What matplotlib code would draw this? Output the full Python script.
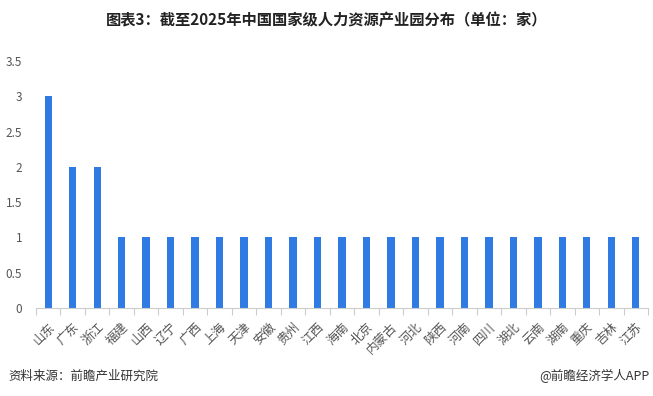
import matplotlib
matplotlib.use("Agg")
import matplotlib.pyplot as plt

plt.rcParams['font.family'] = ['Noto Sans CJK SC', 'DejaVu Sans']

categories = ["山东", "广东", "浙江", "福建", "山西", "辽宁", "广西", "上海", "天津", "安徽",
              "贵州", "江西", "海南", "北京", "内蒙古", "河北", "陕西", "河南", "四川", "湖北",
              "云南", "湖南", "重庆", "吉林", "江苏"]
values = [3, 2, 2, 1, 1, 1, 1, 1, 1, 1, 1, 1, 1, 1, 1, 1, 1, 1, 1, 1, 1, 1, 1, 1, 1]
yticks = [0, 0.5, 1, 1.5, 2, 2.5, 3, 3.5]
ytick_labels = ["0", "0.5", "1", "1.5", "2", "2.5", "3", "3.5"]

fig = plt.figure(figsize=(6.53, 3.96), dpi=100)
ax = fig.add_axes([36/653, 1-308/396, (648-36)/653, (308-61)/396])

x = list(range(len(categories)))
ax.bar(x, values, width=0.3, color="#2f7be3", zorder=2)
ax.set_xlim(-0.5, len(categories)-0.5)
ax.set_ylim(0, 3.5)
ax.set_yticks(yticks)
ax.set_yticklabels(ytick_labels, fontsize=8.5, color="#555555")
ax.tick_params(axis='y', length=0, pad=10)
ax.set_xticks(x)
ax.set_xticklabels(categories, rotation=45, ha='right', rotation_mode='anchor',
                   fontsize=9, color="#555555")
ax.tick_params(axis='x', length=0, pad=9)
ax.set_xticks([i - 0.5 for i in range(len(categories) + 1)], minor=True)
ax.tick_params(axis='x', which='minor', length=5, color="#cccccc", width=0.8)
for s in ["top", "right", "left"]:
    ax.spines[s].set_visible(False)
ax.spines["bottom"].set_color("#cccccc")
ax.spines["bottom"].set_linewidth(0.8)

fig.text(0.5, 1-20/396, "图表3：截至2025年中国国家级人力资源产业园分布（单位：家）",
         ha='center', va='center', fontsize=11, fontweight='bold', color="#222222")
fig.text(8/653, 1-376/396, "资料来源：前瞻产业研究院", ha='left', va='center',
         fontsize=9, color="#333333")
fig.text(650/653, 1-376/396, "@前瞻经济学人APP", ha='right', va='center',
         fontsize=9, color="#333333")

fig.savefig("out.png", dpi=100)
